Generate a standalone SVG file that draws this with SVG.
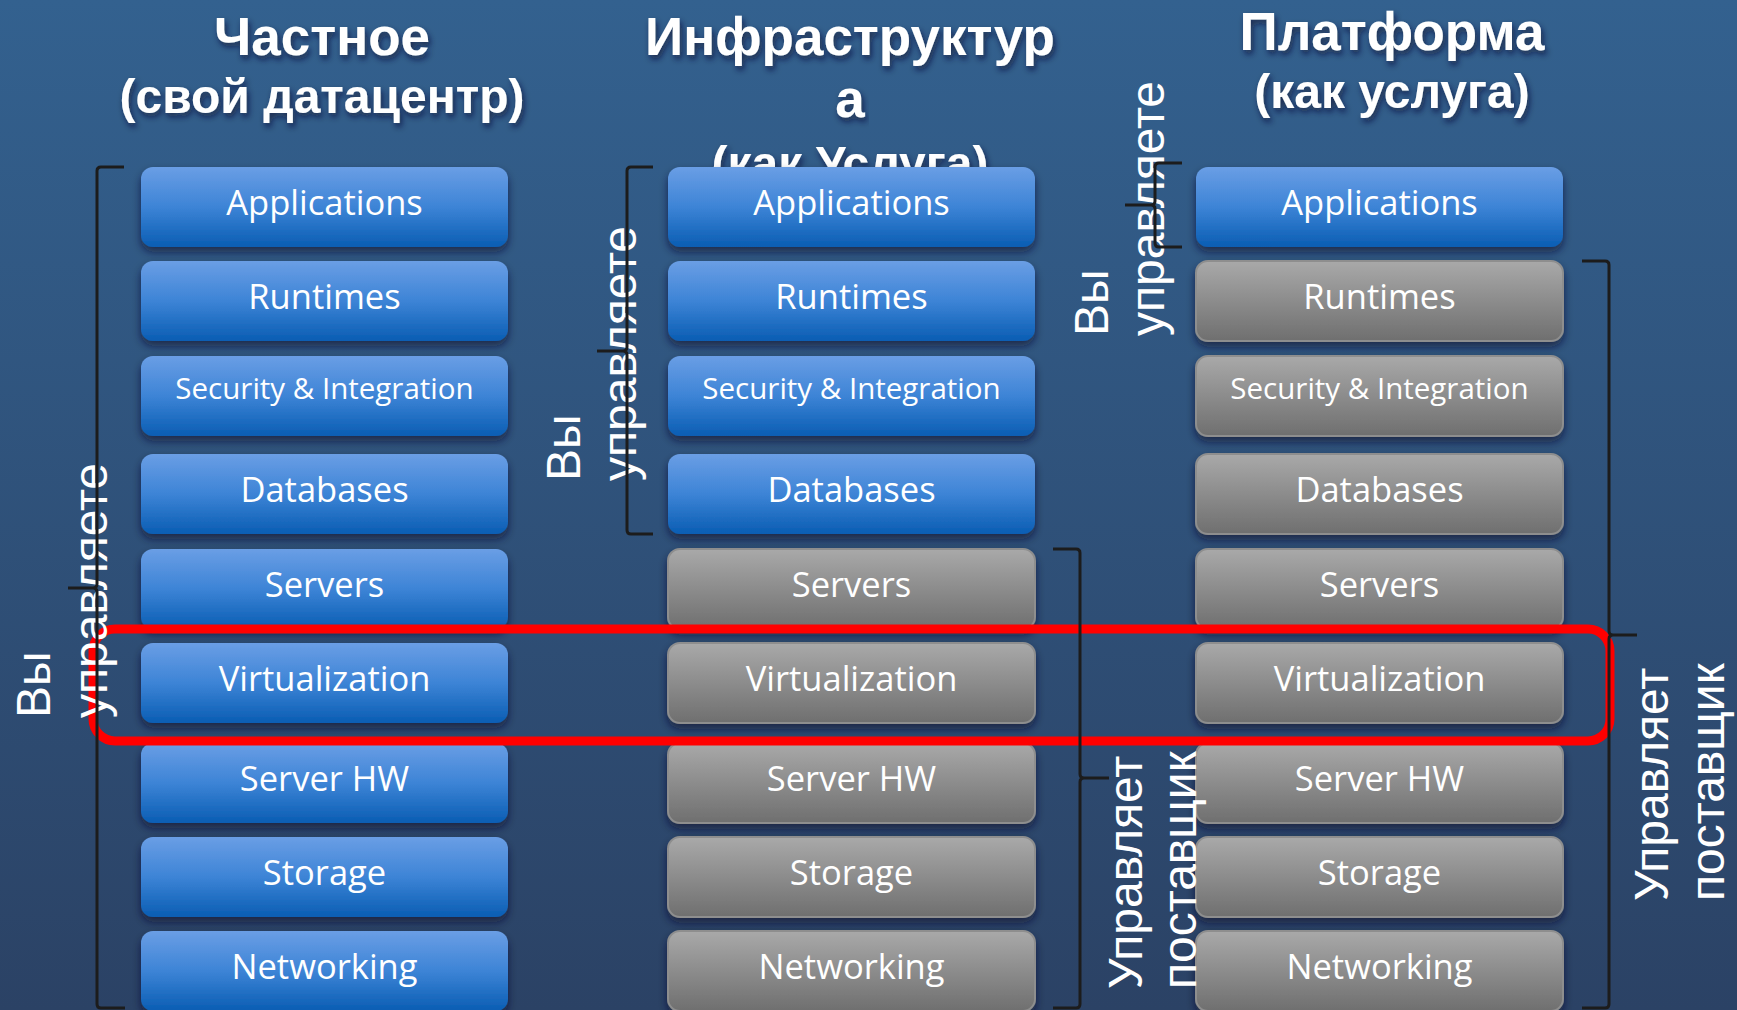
<svg xmlns="http://www.w3.org/2000/svg" width="1737" height="1010" viewBox="0 0 1737 1010">
<defs>
<linearGradient id="bg" x1="0" y1="0" x2="0" y2="1">
<stop offset="0" stop-color="#33618f"/>
<stop offset="1" stop-color="#2b4265"/>
</linearGradient>
<linearGradient id="blue" x1="0" y1="0" x2="0" y2="1">
<stop offset="0" stop-color="#6a9ee5"/>
<stop offset="0.5" stop-color="#3d84d6"/>
<stop offset="1" stop-color="#0a5db3"/>
</linearGradient>
<linearGradient id="gray" x1="0" y1="0" x2="0" y2="1">
<stop offset="0" stop-color="#a9a9a9"/>
<stop offset="1" stop-color="#6f6f6f"/>
</linearGradient>
<filter id="sh" x="-10%" y="-20%" width="120%" height="150%">
<feDropShadow dx="0" dy="5" stdDeviation="4" flood-color="#0b1630" flood-opacity="0.65"/>
</filter>
<filter id="tsh" x="-10%" y="-30%" width="120%" height="160%">
<feDropShadow dx="2" dy="4" stdDeviation="3" flood-color="#0b1630" flood-opacity="0.7"/>
</filter>
</defs>
<style>
.title{font-family:"Liberation Sans",Arial,sans-serif;font-weight:bold;font-size:53px;fill:#ffffff;text-anchor:middle;filter:url(#tsh)}
.t2{font-size:48px}
.b{fill:url(#blue);filter:url(#sh)}
.g{fill:url(#gray);stroke:#8e8e8e;stroke-width:2;filter:url(#sh)}
.lbl{font-family:"Open Sans","Noto Sans",sans-serif;font-size:34.5px;fill:#ffffff;text-anchor:middle}
.sm{font-size:29.5px}
.side{font-family:"Liberation Sans",Arial,sans-serif;font-size:48px;fill:#ffffff}
.br{fill:none;stroke:#1c1c1c;stroke-width:3}
</style>
<rect x="0" y="0" width="1737" height="1010" fill="url(#bg)"/>

<g id="titles">
<text class="title" x="322" y="55">Частное</text>
<text class="title t2" x="322" y="113">(свой датацентр)</text>
<text class="title" x="850" y="55">Инфраструктур</text>
<text class="title" x="850" y="117">а</text>
<text class="title t2" x="850" y="180">(как Услуга)</text>
<text class="title" x="1392" y="50">Платформа</text>
<text class="title t2" x="1392" y="108">(как услуга)</text>
</g>

<!-- Column 1 -->
<g id="c1-applications"><rect class="b" x="141" y="167" width="367" height="80" rx="12"/><text class="lbl" x="324.5" y="215">Applications</text></g>
<g id="c1-runtimes"><rect class="b" x="141" y="261" width="367" height="80" rx="12"/><text class="lbl" x="324.5" y="309">Runtimes</text></g>
<g id="c1-security"><rect class="b" x="141" y="356" width="367" height="80" rx="12"/><text class="lbl sm" x="324.5" y="399">Security &amp; Integration</text></g>
<g id="c1-databases"><rect class="b" x="141" y="454" width="367" height="80" rx="12"/><text class="lbl" x="324.5" y="502">Databases</text></g>
<g id="c1-servers"><rect class="b" x="141" y="549" width="367" height="80" rx="12"/><text class="lbl" x="324.5" y="597">Servers</text></g>
<g id="c1-virtualization"><rect class="b" x="141" y="643" width="367" height="80" rx="12"/><text class="lbl" x="324.5" y="691">Virtualization</text></g>
<g id="c1-serverhw"><rect class="b" x="141" y="743" width="367" height="80" rx="12"/><text class="lbl" x="324.5" y="791">Server HW</text></g>
<g id="c1-storage"><rect class="b" x="141" y="837" width="367" height="80" rx="12"/><text class="lbl" x="324.5" y="885">Storage</text></g>
<g id="c1-networking"><rect class="b" x="141" y="931" width="367" height="80" rx="12"/><text class="lbl" x="324.5" y="979">Networking</text></g>

<!-- Column 2 -->
<g id="c2-applications"><rect class="b" x="668" y="167" width="367" height="80" rx="12"/><text class="lbl" x="851.5" y="215">Applications</text></g>
<g id="c2-runtimes"><rect class="b" x="668" y="261" width="367" height="80" rx="12"/><text class="lbl" x="851.5" y="309">Runtimes</text></g>
<g id="c2-security"><rect class="b" x="668" y="356" width="367" height="80" rx="12"/><text class="lbl sm" x="851.5" y="399">Security &amp; Integration</text></g>
<g id="c2-databases"><rect class="b" x="668" y="454" width="367" height="80" rx="12"/><text class="lbl" x="851.5" y="502">Databases</text></g>
<g id="c2-servers"><rect class="g" x="668" y="549" width="367" height="80" rx="12"/><text class="lbl" x="851.5" y="597">Servers</text></g>
<g id="c2-virtualization"><rect class="g" x="668" y="643" width="367" height="80" rx="12"/><text class="lbl" x="851.5" y="691">Virtualization</text></g>
<g id="c2-serverhw"><rect class="g" x="668" y="743" width="367" height="80" rx="12"/><text class="lbl" x="851.5" y="791">Server HW</text></g>
<g id="c2-storage"><rect class="g" x="668" y="837" width="367" height="80" rx="12"/><text class="lbl" x="851.5" y="885">Storage</text></g>
<g id="c2-networking"><rect class="g" x="668" y="931" width="367" height="80" rx="12"/><text class="lbl" x="851.5" y="979">Networking</text></g>

<!-- Column 3 -->
<g id="c3-applications"><rect class="b" x="1196" y="167" width="367" height="80" rx="12"/><text class="lbl" x="1379.5" y="215">Applications</text></g>
<g id="c3-runtimes"><rect class="g" x="1196" y="261" width="367" height="80" rx="12"/><text class="lbl" x="1379.5" y="309">Runtimes</text></g>
<g id="c3-security"><rect class="g" x="1196" y="356" width="367" height="80" rx="12"/><text class="lbl sm" x="1379.5" y="399">Security &amp; Integration</text></g>
<g id="c3-databases"><rect class="g" x="1196" y="454" width="367" height="80" rx="12"/><text class="lbl" x="1379.5" y="502">Databases</text></g>
<g id="c3-servers"><rect class="g" x="1196" y="549" width="367" height="80" rx="12"/><text class="lbl" x="1379.5" y="597">Servers</text></g>
<g id="c3-virtualization"><rect class="g" x="1196" y="643" width="367" height="80" rx="12"/><text class="lbl" x="1379.5" y="691">Virtualization</text></g>
<g id="c3-serverhw"><rect class="g" x="1196" y="743" width="367" height="80" rx="12"/><text class="lbl" x="1379.5" y="791">Server HW</text></g>
<g id="c3-storage"><rect class="g" x="1196" y="837" width="367" height="80" rx="12"/><text class="lbl" x="1379.5" y="885">Storage</text></g>
<g id="c3-networking"><rect class="g" x="1196" y="931" width="367" height="80" rx="12"/><text class="lbl" x="1379.5" y="979">Networking</text></g>

<g id="highlight">
<rect x="93" y="629" width="1517" height="112" rx="22" fill="none" stroke="#ff0000" stroke-width="9"/>
</g>

<g id="side-labels">
<text class="side" transform="translate(50,718) rotate(-90)">Вы</text>
<text class="side" transform="translate(107,718) rotate(-90)">управляете</text>
<text class="side" transform="translate(580,481) rotate(-90)">Вы</text>
<text class="side" transform="translate(636,481) rotate(-90)">управляете</text>
<text class="side" transform="translate(1108,336) rotate(-90)">Вы</text>
<text class="side" transform="translate(1164,336) rotate(-90)">управляете</text>
<text class="side" transform="translate(1142,989) rotate(-90)">Управляет</text>
<text class="side" transform="translate(1196,989) rotate(-90)">поставщик</text>
<text class="side" transform="translate(1668,901) rotate(-90)">Управляет</text>
<text class="side" transform="translate(1724,901) rotate(-90)">поставщик</text>
</g>

<g id="connectors">
<path class="br" d="M124 167 H101 Q97 167 97 171 V584 Q97 588 93 588 H68 M93 588 Q97 588 97 592 V1004 Q97 1008 101 1008 H125"/>
<path class="br" d="M653 167 H631 Q627 167 627 171 V347 Q627 351 623 351 H597 M623 351 Q627 351 627 355 V530 Q627 534 631 534 H653"/>
<path class="br" d="M1182 163 H1159 Q1155 163 1155 167 V201 Q1155 205 1151 205 H1125 M1151 205 Q1155 205 1155 209 V243 Q1155 247 1159 247 H1182"/>
<path class="br" d="M1053 549 H1076 Q1080 549 1080 553 V774 Q1080 778 1084 778 H1109 M1084 778 Q1080 778 1080 782 V1004 Q1080 1008 1076 1008 H1053"/>
<path class="br" d="M1582 261 H1605 Q1609 261 1609 265 V631 Q1609 635 1613 635 H1637 M1613 635 Q1609 635 1609 639 V1004 Q1609 1008 1605 1008 H1582"/>
</g>
</svg>
